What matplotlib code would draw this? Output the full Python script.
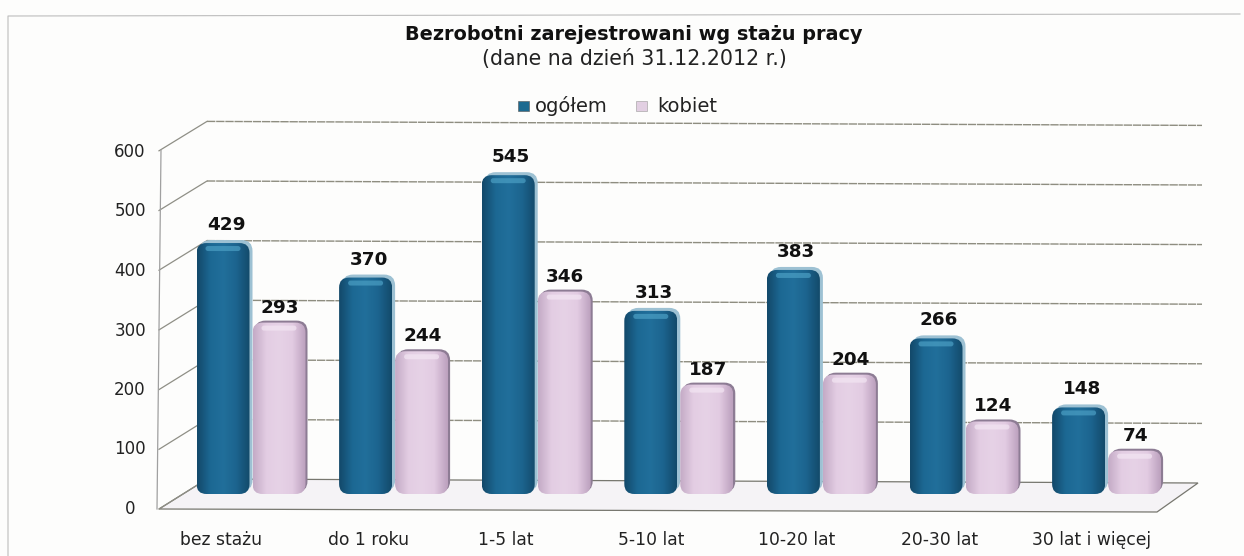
import matplotlib
matplotlib.use('Agg')
import matplotlib.pyplot as plt
from matplotlib.patches import FancyBboxPatch, Polygon, Rectangle
from matplotlib.colors import LinearSegmentedColormap
import numpy as np

categories = ['bez stażu', 'do 1 roku', '1-5 lat', '5-10 lat', '10-20 lat', '20-30 lat', '30 lat i więcej']
ogolem = [429, 370, 545, 313, 383, 266, 148]
kobiet = [293, 244, 346, 187, 204, 124, 74]
yticks = [0, 100, 200, 300, 400, 500, 600]
title = 'Bezrobotni zarejestrowani wg stażu pracy'
subtitle = '(dane na dzień 31.12.2012 r.)'
legend_names = ['ogółem', 'kobiet']

plt.rcParams['font.family'] = ['DejaVu Sans']
W, H = 1244, 556
fig = plt.figure(figsize=(W/100, H/100), dpi=100, facecolor='#fdfdfc')
ax = fig.add_axes([0, 0, 1, 1])
ax.set_xlim(0, W); ax.set_ylim(H, 0); ax.axis('off')

# page frame
ax.plot([8, 8, 1240], [556, 16, 14], color='#bdbdbd', lw=0.8)

# value -> pixel mapping of the bars
y0, ppu = 494, 0.585
def vy(v):
    return y0 - v * ppu

# floor
ax.add_patch(Polygon([[159, 509], [207, 479], [1198, 483], [1157, 512]], closed=True,
                     fc='#f5f3f6', ec='#77776f', lw=0.9, zorder=1))

# gridlines: slanted side wall + back wall
for t in yticks:
    yf = 509 - t * 0.597
    yb = 479 - t * 0.596
    ax.plot([159, 207], [yf, yb], color='#8f8f86', lw=0.9, zorder=2)
    if t > 0:
        ax.plot([207, 1202], [yb, yb + 4], color='#8e8d80', lw=1.0, ls=(0, (6, 0.6)), zorder=2)
    ax.text(130, 509 - t * 0.595, str(t), ha='center', va='center', fontsize=12, color='#222222')
ax.plot([157, 161], [509, 150], color='#a0a0a0', lw=0.9, zorder=2)

blue = LinearSegmentedColormap.from_list('b', ['#13496a', '#1c6893', '#216f9b', '#1c648e', '#134a6b'])
pink = LinearSegmentedColormap.from_list('p', ['#c4abc6', '#e3cde3', '#e6d2e6', '#e2cbe2', '#bca1be'])
grad = np.linspace(0, 1, 64).reshape(1, -1)

def bar(xc, width, v, cmap, back, shine, off, zo):
    ytop = vy(v)
    x0 = xc - width / 2
    ybot = y0
    ax.add_patch(FancyBboxPatch((x0 + off, ytop - off), width - 2, ybot - ytop, boxstyle='round,pad=0,rounding_size=11',
                                fc=back, ec='none', zorder=zo - 1))
    clip = FancyBboxPatch((x0, ytop), width - 2, ybot - ytop, boxstyle='round,pad=0,rounding_size=10',
                          fc='none', ec='none', zorder=zo + 1)
    ax.add_patch(clip)
    im = ax.imshow(grad, extent=(x0, x0 + width - 2, ybot, ytop), cmap=cmap, aspect='auto', zorder=zo)
    im.set_clip_path(clip)
    ax.add_patch(FancyBboxPatch((x0 + 9, ytop + 3), width - 20, 5, boxstyle='round,pad=0,rounding_size=2.5',
                                fc=shine, ec='none', alpha=0.7, zorder=zo + 2))

step = 142.6
label_x = [221, 369, 506, 651, 797, 940, 1092]
for i, (a, b) in enumerate(zip(ogolem, kobiet)):
    cx = 224 + i * step
    bar(cx, 55, a, blue, '#9dc1d3', '#4b9fc4', 3, 3)
    bar(cx + 56, 55, b, pink, '#8d7c94', '#f3e6f3', 2, 5)
    ax.text(cx + 2, vy(a) - 18, str(a), ha='center', va='center', fontsize=13.2, fontweight='bold', color='#111111', zorder=9)
    ax.text(cx + 56, vy(b) - 15, str(b), ha='center', va='center', fontsize=13.2, fontweight='bold', color='#111111', zorder=9)
    ax.text(label_x[i], 540, categories[i], ha='center', va='center', fontsize=12.3, color='#222222')

ax.set_xlim(0, W); ax.set_ylim(H, 0)

ax.text(634, 34, title, ha='center', va='center', fontsize=13.9, fontweight='bold', color='#111111')
ax.text(634, 59, subtitle, ha='center', va='center', fontsize=14.8, color='#222222')

ax.add_patch(Rectangle((518, 101), 11, 10, fc='#1d6a90', ec='#555555', lw=0.4))
ax.text(535, 106, legend_names[0], ha='left', va='center', fontsize=14, color='#222222')
ax.add_patch(Rectangle((636, 101), 11, 10, fc='#e2cfe2', ec='#999999', lw=0.4))
ax.text(657, 106, legend_names[1], ha='left', va='center', fontsize=14, color='#222222')

fig.savefig('out.png', dpi=100, facecolor=fig.get_facecolor())
